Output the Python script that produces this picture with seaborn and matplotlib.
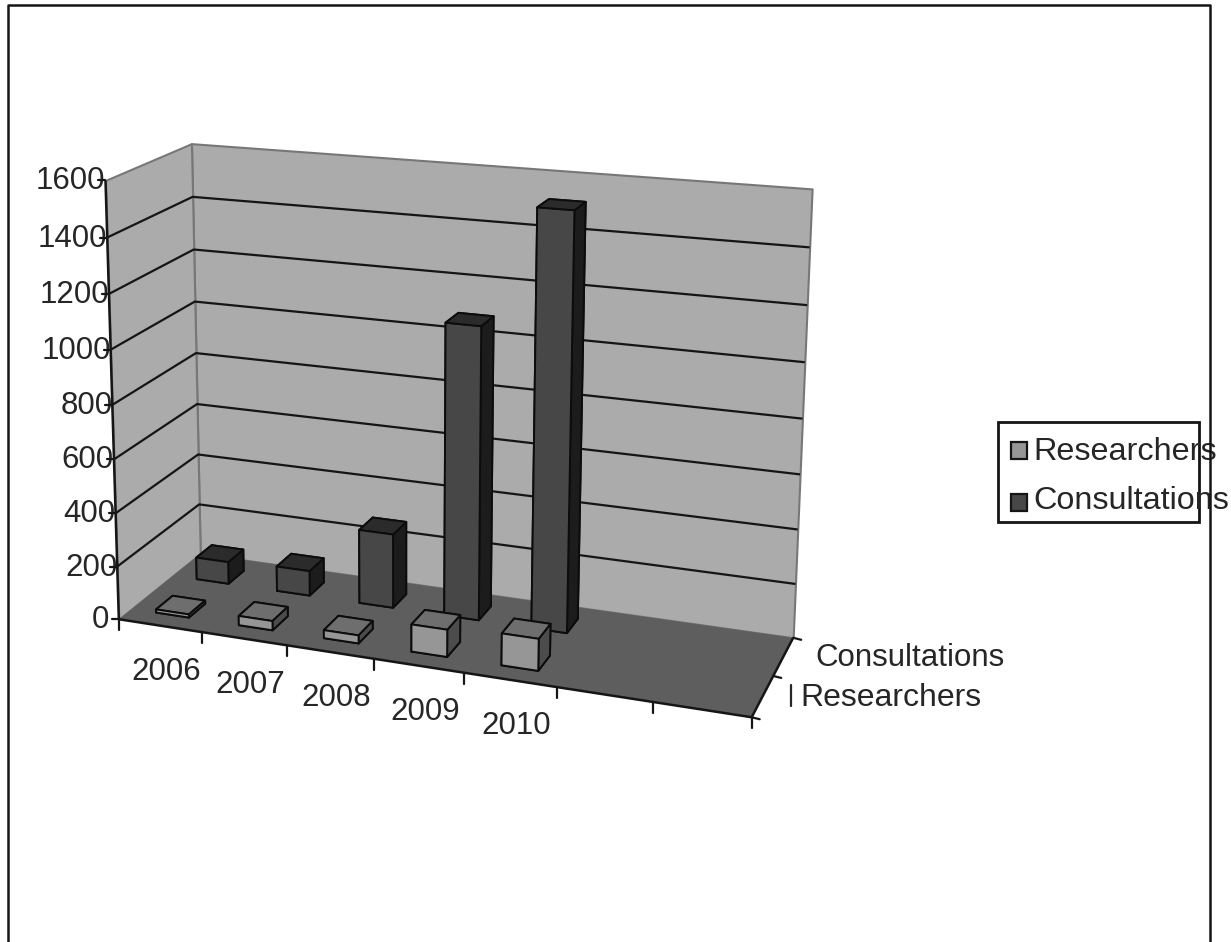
import numpy as np
import matplotlib
matplotlib.use("Agg")
import matplotlib.pyplot as plt
from matplotlib.lines import Line2D
from matplotlib.patches import Rectangle
from mpl_toolkits.mplot3d.art3d import Poly3DCollection, Line3DCollection
import seaborn as sns

# ---- data ----
years = ["2006", "2007", "2008", "2009", "2010"]
researchers = [12, 35, 30, 100, 116]
consultations = [85, 95, 280, 1085, 1520]
series_names = ["Researchers", "Consultations"]
z_ticks = [0, 200, 400, 600, 800, 1000, 1200, 1400, 1600]

W, H = 1231, 942
N_CAT, N_SER, Z_MAX = 7, 2, 1600

sns.set_theme(style="white")
plt.rcParams["font.family"] = ["Liberation Sans", "DejaVu Sans"]
TXT = "#262626"
WALL, FLOOR, WALL_EDGE = "#ababab", "#5e5e5e", "#777777"
# faces: bottom, top, front, back, left, right
FACE_R = ["#555555", "#6e6e6e", "#969696", "#555555", "#555555", "#4c4c4c"]
FACE_C = ["#222222", "#2b2b2b", "#474747", "#222222", "#222222", "#1c1c1c"]

# ---- oblique camera fitted to the frame of the 3-D box ----
box_ref = [  # (cat, series, value) -> (px, py)
    ((0, 0, 0), (119, 618)), ((N_CAT, 0, 0), (752, 718)),
    ((0, N_SER, 0), (200, 555)), ((N_CAT, N_SER, 0), (793, 637)),
    ((0, 0, Z_MAX), (105, 181)), ((0, N_SER, Z_MAX), (192, 143)),
    ((N_CAT, N_SER, Z_MAX), (812, 189)),
]
A, b = [], []
for (x, y, z), (u, v) in box_ref:
    v = H - v
    A.append([x, y, z, 1, 0, 0, 0, 0, -u * x, -u * y, -u * z]); b.append(u)
    A.append([0, 0, 0, 0, x, y, z, 1, -v * x, -v * y, -v * z]); b.append(v)
s = np.linalg.lstsq(np.array(A, float), np.array(b, float), rcond=None)[0]
P = np.array([s[:4], s[4:8], s[8:11].tolist() + [1.0]])
DEPTH = np.array([-0.1, 1.0, -0.001, 0.0])


def project(x, y, z):
    h = P @ np.array([x, y, z, 1.0])
    return h[0] / h[2], H - h[1] / h[2]


fig = plt.figure(figsize=(W / 100, H / 100), dpi=100, facecolor="white")
ax = fig.add_axes([0, 0, 1, 1], projection="3d")
ax.apply_aspect = lambda *a, **k: None
ax.set_position([0, 0, 1, 1])
ax.set_axis_off()
ax.patch.set_visible(False)
ax.computed_zorder = False


def custom_proj():
    T = ax.transData.inverted().get_matrix()
    L = np.array([[T[0, 0], T[0, 1], 0, T[0, 2]],
                  [T[1, 0], T[1, 1], 0, T[1, 2]],
                  [0, 0, 1, 0],
                  [0, 0, 0, 1]])
    M = np.vstack([P[0], P[1], DEPTH, P[2]])
    return L @ M


ax.get_proj = custom_proj

# ---- walls and floor ----
back = [[(0, N_SER, 0), (N_CAT, N_SER, 0), (N_CAT, N_SER, Z_MAX), (0, N_SER, Z_MAX)]]
left = [[(0, 0, 0), (0, N_SER, 0), (0, N_SER, Z_MAX), (0, 0, Z_MAX)]]
floor = [[(0, 0, 0), (N_CAT, 0, 0), (N_CAT, N_SER, 0), (0, N_SER, 0)]]
ax.add_collection3d(Poly3DCollection(back, facecolor=WALL, edgecolor=WALL_EDGE, linewidth=1.5, zorder=1), autolim=False)
ax.add_collection3d(Poly3DCollection(left, facecolor=WALL, edgecolor=WALL_EDGE, linewidth=1.5, zorder=1), autolim=False)
ax.add_collection3d(Poly3DCollection(floor, facecolor=FLOOR, edgecolor="none", zorder=1.5), autolim=False)
grid_segs = []
for zv in z_ticks[1:-1]:
    grid_segs.append([(0, 0, zv), (0, N_SER, zv), (N_CAT, N_SER, zv)])
ax.add_collection3d(Line3DCollection(grid_segs, colors="#151515", linewidths=1.6, zorder=5), autolim=False)
edge_segs = [[(0, 0, 0), (0, 0, Z_MAX)], [(0, 0, 0), (N_CAT, 0, 0), (N_CAT, N_SER, 0)]]
ax.add_collection3d(Line3DCollection(edge_segs, colors="#151515", linewidths=1.8, zorder=6), autolim=False)

# ---- bars ----
BW = 0.40
order = [(1, consultations, FACE_C), (0, researchers, FACE_R)]
for row, vals, faces in order:
    for i, val in enumerate(vals):
        ax.bar3d(i + 0.5 - BW / 2, row + 0.5 - BW / 2, 0, BW, BW, val,
                 color=faces, edgecolor="#0c0c0c", linewidth=1.4, shade=False,
                 zorder=10 + (1 - row) * 20 + i)


def px_line(xs, ys, color="#151515", lw=1.6, zorder=5):
    fig.add_artist(Line2D([x / W for x in xs], [1 - y / H for y in ys],
                          transform=fig.transFigure, color=color, lw=lw, zorder=zorder))


def px_text(x, y, s, size=22.5, **kw):
    fig.text(x / W, 1 - y / H, s, fontsize=size, color=TXT, va="center", **kw)


# ---- ticks and tick labels ----
for i in range(N_CAT + 1):
    px, py = project(i, 0, 0)
    px_line([px, px], [py, py + 11])
for i, lab in enumerate(years):
    px, py = project(i + 0.5, 0, 0)
    px_text(px + 6, py + 46, lab, ha="center")
for zv in z_ticks:
    px, py = project(0, 0, zv)
    px_line([px - 7, px], [py, py])
    px_text(px - (10 if zv == 0 else 0), py + 1, str(zv), ha="right")
for j in range(N_SER + 1):
    px, py = project(N_CAT, j, 0)
    px_line([px, px + 8], [py, py + 2])
px_text(815, 658, series_names[1], ha="left")
px_text(800, 698, series_names[0], size=23, ha="left")
px_line([791, 791], [685, 706], color=TXT, lw=1.6)

# ---- legend ----
fig.add_artist(Rectangle((998 / W, 1 - 522 / H), 201 / W, 100 / H, transform=fig.transFigure,
                         facecolor="white", edgecolor="#151515", lw=2, zorder=6))
for name, y, sw, col in zip(series_names, [452, 501], [459, 511], [FACE_R[2], FACE_C[2]]):
    fig.add_artist(Rectangle((1011 / W, 1 - sw / H), 16 / W, 17 / H, transform=fig.transFigure,
                             facecolor=col, edgecolor="#151515", lw=1.6, zorder=7))
    px_text(1033, y, name, size=23.3, ha="left", zorder=8)

# ---- chart frame ----
px_line([8, 8, 1210, 1210], [942, 5, 5, 942], color="#151515", lw=1.8, zorder=9)

fig.savefig("out.png", dpi=100)
